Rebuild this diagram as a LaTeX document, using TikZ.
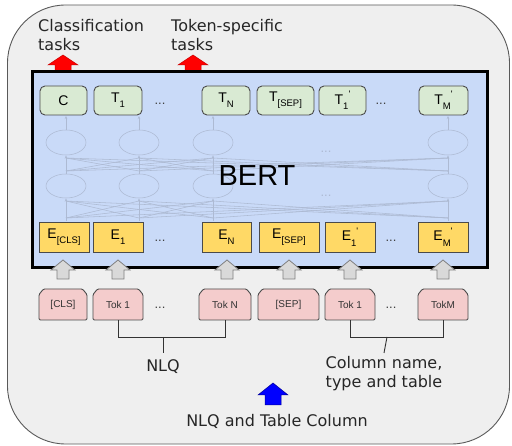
\documentclass[tikz,border=0pt]{standalone}
\usepackage{fontspec}
\setmainfont{DejaVu Sans}
\newfontfamily\arialfont{Liberation Sans}
\usetikzlibrary{arrows.meta}

\definecolor{outerfill}{HTML}{EFEFEF}
\definecolor{outerline}{HTML}{595959}
\definecolor{bertfill}{HTML}{C9DAF8}
\definecolor{ghostline}{HTML}{ADBAD3}
\definecolor{greenfill}{HTML}{D9EAD3}
\definecolor{yellowfill}{HTML}{FFD966}
\definecolor{pinkfill}{HTML}{F4CCCC}
\definecolor{boxline}{HTML}{4A4A4A}
\definecolor{grayarrow}{HTML}{D9D9D9}

% subscript and prime placed after a letter
\newcommand\lowtxt[1]{\raisebox{-0.38em}{\fontsize{9.5}{9.5}\selectfont #1}}
\newcommand\hightxt[1]{\raisebox{0.45em}{\fontsize{9.5}{9.5}\selectfont #1}}

% upward block arrow: style, centre x, tip y, head half-width, head height, shaft half-width, base y
\newcommand\uparr[7]{%
  \draw[#1] (#2,#3) -- (#2+#4,#3+#5) -- (#2+#6,#3+#5) -- (#2+#6,#7)
    -- (#2-#6,#7) -- (#2-#6,#3+#5) -- (#2-#4,#3+#5) -- cycle;}

% token box with bevelled top corners: name, left x, right x, label
\newcommand\tokbox[4]{%
  \draw[tokpath] (#2,320) -- (#2,294.5) -- (#2+4.5,289) -- (#3-4.5,289)
    -- (#3,294.5) -- (#3,320) -- cycle;
  \node[toklabel, minimum width=#3-#2] (#1) at ({(#2+#3)/2},304.5) {#4};}

\tikzset{
  lbl/.style={font=\fontsize{16}{19}\selectfont, inner sep=0pt, text=black!85},
  tbox/.style={draw=boxline, fill=greenfill, line width=0.9pt, rounded corners=5pt,
    minimum height=29, inner sep=0pt, font=\arialfont\fontsize{14}{14}\selectfont},
  ebox/.style={draw=boxline, fill=yellowfill, line width=0.9pt,
    minimum height=30, inner sep=0pt, font=\arialfont\fontsize{14}{14}\selectfont},
  tokpath/.style={draw=boxline, fill=pinkfill, line width=0.9pt, rounded corners=1.2pt},
  toklabel/.style={minimum height=31, inner sep=0pt, font=\arialfont\fontsize{10}{10}\selectfont, text=black!80},
  dots/.style={font=\arialfont\fontsize{13}{13}\selectfont, text=black!75, inner sep=0pt},
  ghost/.style={draw=ghostline, line width=0.55pt},
  ghostarrow/.style={ghost, -{Stealth[length=3pt,width=2.5pt]}},
  bracket/.style={draw=black!80, line width=0.9pt},
  redarr/.style={fill=red, draw=red!80!black, line width=0.5pt},
  grayarr/.style={fill=grayarrow, draw=black!50, line width=0.8pt},
  bluearr/.style={fill=blue, draw=blue!60!black, line width=0.5pt},
}

\begin{document}
\begin{tikzpicture}[x=1pt,y=-1pt]
\useasboundingbox (0,0) rectangle (512,446);

% outer rounded panel
\draw[fill=outerfill, draw=outerline, line width=0.9pt, rounded corners=58pt]
  (7.5,5) rectangle (509.5,444);

% output arrows
\uparr{redarr}{63}{55}{15}{10}{8}{72}
\uparr{redarr}{193}{55}{15}{10}{8}{72}

% BERT frame
\draw[fill=bertfill, draw=black, line width=3pt] (32,72) rectangle (487.5,268);

% faint network inside the frame
\foreach \a in {66,139,213,448} {
  \draw[ghost] (\a,142.5) ellipse (20 and 12.5);
  \draw[ghost] (\a,186) ellipse (20 and 12);
  \draw[ghostarrow] (\a,221) -- (\a,198.5);
  \draw[ghostarrow] (\a,174) -- (\a,155.5);
  \draw[ghostarrow] (\a,130) -- (\a,116);
  \foreach \b in {66,139,213,448} {
    \draw[ghost] (\b,218) -- (\a,201);
    \draw[ghost] (\b,171) -- (\a,158);
  }
}
\node[dots, text=ghostline] (gd1) at (326,152) {...};
\node[dots, text=ghostline] (gd2) at (326,196) {...};

\node[font=\arialfont\fontsize{29}{29}\selectfont, inner sep=0pt] (bert) at (257,175.5) {BERT};

% output tokens
\node[tbox, minimum width=47] (tc)   at (63.5,100.5) {C};
\node[tbox, minimum width=48] (t1)   at (118,100.5) {T\lowtxt{1}};
\node[dots] (td1) at (160,104) {...};
\node[tbox, minimum width=48] (tn)   at (226,100.5) {T\lowtxt{N}};
\node[tbox, minimum width=57] (tsep) at (285.5,100.5) {T\lowtxt{[SEP]}};
\node[tbox, minimum width=47] (t1b)  at (342.5,100.5) {T\lowtxt{1}\hightxt{'}};
\node[dots] (td2) at (381,104) {...};
\node[tbox, minimum width=49] (tm)   at (443.5,100.5) {T\lowtxt{M}\hightxt{'}};

% input embeddings
\node[ebox, minimum width=50] (ecls) at (64,237) {E\lowtxt{[CLS]}};
\node[ebox, minimum width=50] (e1)   at (118,237) {E\lowtxt{1}};
\node[dots] (ed1) at (160,241) {...};
\node[ebox, minimum width=49] (en)   at (226.5,237) {E\lowtxt{N}};
\node[ebox, minimum width=60] (esep) at (289,237) {E\lowtxt{[SEP]}};
\node[ebox, minimum width=50] (e1b)  at (350,237) {E\lowtxt{1}\hightxt{'}};
\node[dots] (ed2) at (391,241) {...};
\node[ebox, minimum width=50] (em)   at (443,237) {E\lowtxt{M}\hightxt{'}};

% input arrows
\foreach \c in {63,118,227,289,350,443} {
  \uparr{grayarr}{\c}{260}{12}{10}{6}{279}
}

% input tokens
\tokbox{tcls}{39}{87}{[CLS]}
\tokbox{tok1}{93}{143}{Tok 1}
\node[dots] (kd1) at (160,308) {...};
\tokbox{tokn}{199}{251}{Tok N}
\tokbox{tsp}{258}{319}{[SEP]}
\tokbox{tokb}{325}{375}{Tok 1}
\node[dots] (kd2) at (391,308) {...};
\tokbox{tokm}{418}{468}{TokM}

% groupings
\coordinate (nlqjoin) at (163,337);
\coordinate (coljoin) at (387,337);
\node[lbl, anchor=north, inner ysep=6pt] (nlq) at (163,353) {NLQ};
\node[lbl, anchor=north, inner ysep=3.5pt, align=center] (collbl) at (384,353)
  {Column name,\\type and table};
\draw[bracket] (tok1.south) |- (tokn.south |- nlqjoin) -- (tokn.south);
\draw[bracket] (nlqjoin) -- (nlq.north);
\draw[bracket] (tokb.south) |- (tokm.south |- coljoin) -- (tokm.south);
\draw[bracket] (coljoin) -- (collbl.north);

% task labels
\node[lbl, anchor=north west, align=left] (clstask) at (38,19) {Classification\\tasks};
\node[lbl, anchor=north west, align=left] (toktask) at (171,19) {Token-specific\\tasks};

% input label and arrow
\uparr{bluearr}{273}{383}{15}{12}{8}{405}
\node[lbl, anchor=base] (inlbl) at (277,427) {NLQ and Table Column};
\end{tikzpicture}
\end{document}
